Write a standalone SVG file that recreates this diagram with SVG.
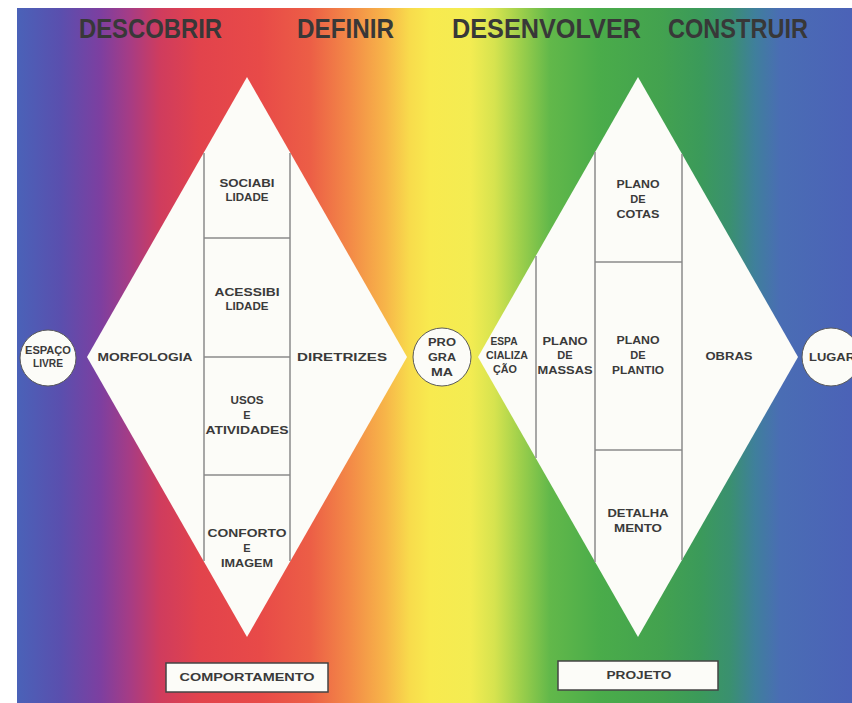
<svg xmlns="http://www.w3.org/2000/svg" width="852" height="703" viewBox="0 0 852 703">
<defs>
<linearGradient id="rainbow" gradientUnits="userSpaceOnUse" x1="17" y1="0" x2="852" y2="0">
<stop offset="0" stop-color="#4a62b8"/>
<stop offset="0.052" stop-color="#5a4fae"/>
<stop offset="0.1" stop-color="#7d3fa0"/>
<stop offset="0.135" stop-color="#a63c85"/>
<stop offset="0.171" stop-color="#cf3c5e"/>
<stop offset="0.219" stop-color="#e2434c"/>
<stop offset="0.291" stop-color="#e84a48"/>
<stop offset="0.351" stop-color="#ec5e46"/>
<stop offset="0.399" stop-color="#f38a47"/>
<stop offset="0.441" stop-color="#f7b549"/>
<stop offset="0.471" stop-color="#f8dc4c"/>
<stop offset="0.495" stop-color="#f8ea4f"/>
<stop offset="0.543" stop-color="#f3ec52"/>
<stop offset="0.572" stop-color="#d6e34f"/>
<stop offset="0.602" stop-color="#9fd04b"/>
<stop offset="0.638" stop-color="#62b84a"/>
<stop offset="0.698" stop-color="#4aac4a"/>
<stop offset="0.770" stop-color="#43a24f"/>
<stop offset="0.818" stop-color="#3b9a5a"/>
<stop offset="0.854" stop-color="#3a9070"/>
<stop offset="0.884" stop-color="#3f7f9c"/>
<stop offset="0.914" stop-color="#4a6db4"/>
<stop offset="1" stop-color="#4b62b7"/>
</linearGradient>
<style>
.title{font-family:"Liberation Sans",Arial,sans-serif;font-weight:bold;font-size:28px;fill:#383838;}
.t{font-family:"Liberation Sans",Arial,sans-serif;font-weight:bold;font-size:11px;fill:#3a3a3a;text-anchor:middle;}
.dia{fill:#fcfcf8;}
.div{stroke:#8a8a8a;stroke-width:1.5;fill:none;}
.circ{fill:#fcfcf8;stroke:#5a5a5a;stroke-width:1;}
.box{fill:#fcfcf8;stroke:#444;stroke-width:1.5;}
</style>
</defs>
<rect x="0" y="0" width="852" height="703" fill="#ffffff"/>
<rect x="17" y="8" width="835" height="695" fill="url(#rainbow)"/>

<g id="titles">
<text class="title" x="79" y="38" textLength="143" lengthAdjust="spacingAndGlyphs">DESCOBRIR</text>
<text class="title" x="297" y="38" textLength="97" lengthAdjust="spacingAndGlyphs">DEFINIR</text>
<text class="title" x="452" y="38" textLength="189" lengthAdjust="spacingAndGlyphs">DESENVOLVER</text>
<text class="title" x="668" y="38" textLength="140" lengthAdjust="spacingAndGlyphs">CONSTRUIR</text>
</g>

<g id="diamond-left">
<polygon class="dia" points="247,77 407,357 247,637 87,357"/>
<path class="div" d="M204,153 V561 M290,153 V561 M204,238 H290 M204,357 H290 M204,475 H290"/>
</g>

<g id="morfologia"><text class="t" x="145" y="361" textLength="95" lengthAdjust="spacingAndGlyphs">MORFOLOGIA</text></g>
<g id="diretrizes"><text class="t" x="342" y="361" textLength="90" lengthAdjust="spacingAndGlyphs">DIRETRIZES</text></g>
<g id="sociabilidade">
<text class="t" x="247" y="187" textLength="55" lengthAdjust="spacingAndGlyphs">SOCIABI</text>
<text class="t" x="247" y="201" textLength="43" lengthAdjust="spacingAndGlyphs">LIDADE</text>
</g>
<g id="acessibilidade">
<text class="t" x="247" y="296" textLength="65" lengthAdjust="spacingAndGlyphs">ACESSIBI</text>
<text class="t" x="247" y="310" textLength="43" lengthAdjust="spacingAndGlyphs">LIDADE</text>
</g>
<g id="usos">
<text class="t" x="247" y="404" textLength="33" lengthAdjust="spacingAndGlyphs">USOS</text>
<text class="t" x="247" y="419">E</text>
<text class="t" x="247" y="434" textLength="83" lengthAdjust="spacingAndGlyphs">ATIVIDADES</text>
</g>
<g id="conforto">
<text class="t" x="247" y="537" textLength="79" lengthAdjust="spacingAndGlyphs">CONFORTO</text>
<text class="t" x="247" y="552">E</text>
<text class="t" x="247" y="567" textLength="52" lengthAdjust="spacingAndGlyphs">IMAGEM</text>
</g>

<g id="diamond-right">
<polygon class="dia" points="638,77 798,357 638,637 478,357"/>
<path class="div" d="M536,256 V458 M595,152 V562 M682,154 V560 M595,262 H682 M595,450 H682"/>
</g>

<g id="espacializacao">
<text class="t" x="504" y="345" textLength="27" lengthAdjust="spacingAndGlyphs">ESPA</text>
<text class="t" x="507" y="359" textLength="42" lengthAdjust="spacingAndGlyphs">CIALIZA</text>
<text class="t" x="505" y="373" textLength="24" lengthAdjust="spacingAndGlyphs">ÇÃO</text>
</g>
<g id="plano-massas">
<text class="t" x="565" y="345" textLength="45" lengthAdjust="spacingAndGlyphs">PLANO</text>
<text class="t" x="565" y="359">DE</text>
<text class="t" x="565" y="374" textLength="55" lengthAdjust="spacingAndGlyphs">MASSAS</text>
</g>
<g id="plano-cotas">
<text class="t" x="638" y="188" textLength="43" lengthAdjust="spacingAndGlyphs">PLANO</text>
<text class="t" x="638" y="203">DE</text>
<text class="t" x="638" y="218" textLength="43" lengthAdjust="spacingAndGlyphs">COTAS</text>
</g>
<g id="plano-plantio">
<text class="t" x="638" y="344" textLength="43" lengthAdjust="spacingAndGlyphs">PLANO</text>
<text class="t" x="638" y="359">DE</text>
<text class="t" x="638" y="374" textLength="52" lengthAdjust="spacingAndGlyphs">PLANTIO</text>
</g>
<g id="detalhamento">
<text class="t" x="638" y="517" textLength="61" lengthAdjust="spacingAndGlyphs">DETALHA</text>
<text class="t" x="638" y="532" textLength="48" lengthAdjust="spacingAndGlyphs">MENTO</text>
</g>
<g id="obras"><text class="t" x="729" y="360" textLength="47" lengthAdjust="spacingAndGlyphs">OBRAS</text></g>

<g id="espaco-livre">
<circle class="circ" cx="48" cy="358" r="28"/>
<text class="t" x="48" y="354" textLength="46" lengthAdjust="spacingAndGlyphs">ESPAÇO</text>
<text class="t" x="48" y="367" textLength="30" lengthAdjust="spacingAndGlyphs">LIVRE</text>
</g>
<g id="programa">
<circle class="circ" cx="442" cy="357" r="29"/>
<text class="t" x="442" y="346" textLength="28" lengthAdjust="spacingAndGlyphs">PRO</text>
<text class="t" x="442" y="361" textLength="28" lengthAdjust="spacingAndGlyphs">GRA</text>
<text class="t" x="442" y="376" textLength="22" lengthAdjust="spacingAndGlyphs">MA</text>
</g>
<g id="lugar">
<circle class="circ" cx="831" cy="357" r="29"/>
<text class="t" x="832" y="361" textLength="46" lengthAdjust="spacingAndGlyphs">LUGAR</text>
</g>

<g id="comportamento">
<rect class="box" x="166" y="663" width="162" height="29"/>
<text class="t" x="247" y="681" textLength="135" lengthAdjust="spacingAndGlyphs">COMPORTAMENTO</text>
</g>
<g id="projeto">
<rect class="box" x="558" y="661" width="160" height="29"/>
<text class="t" x="639" y="679" textLength="65" lengthAdjust="spacingAndGlyphs">PROJETO</text>
</g>

<g id="connectors"></g>
</svg>
